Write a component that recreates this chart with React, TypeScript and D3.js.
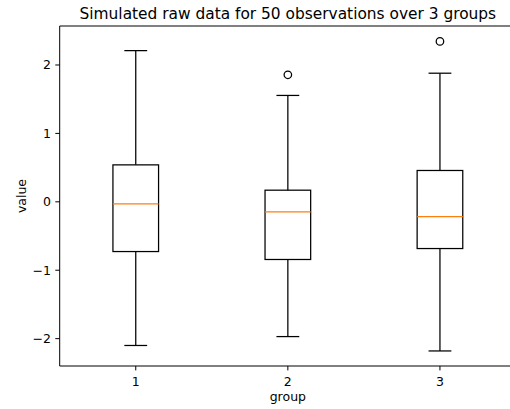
import React from "react";
import * as d3 from "d3";

const groups = [1, 2, 3];
const whiskerLow = [-2.10, -1.97, -2.18];
const q1 = [-0.727, -0.843, -0.683];
const median = [-0.03, -0.146, -0.215];
const q3 = [0.54, 0.17, 0.458];
const whiskerHigh = [2.21, 1.555, 1.88];
const outliers: number[][] = [[], [1.857], [2.344]];
const yTicks = [-2, -1, 0, 1, 2];

const W = 510, H = 409;
const L = 59.7, R = 516, T = 26, B = 366;
const FONT = "DejaVu Sans, sans-serif";

export default function App() {
  const x = d3.scaleLinear().domain([0.5, 3.5]).range([L, R]);
  const y = d3.scaleLinear().domain([-2.40, 2.57]).range([B, T]);
  const boxW = 0.3;
  const capW = 0.15;
  const lw = 1.25;
  return (
    <svg width={W} height={H} style={{ position: "absolute", left: 0, top: 0, background: "#fff" }}>
      <rect x={0} y={0} width={W} height={H} fill="#fff" />
      <text x={(L + R) / 2} y={19} textAnchor="middle" fontFamily={FONT} fontSize={15.4} fill="#000">
        Simulated raw data for 50 observations over 3 groups
      </text>
      {groups.map((g, i) => {
        const cx = x(g);
        const x0 = x(g - boxW / 2), x1 = x(g + boxW / 2);
        const c0 = x(g - capW / 2), c1 = x(g + capW / 2);
        return (
          <g key={g}>
            <line x1={cx} x2={cx} y1={y(q1[i])} y2={y(whiskerLow[i])} stroke="#000" strokeWidth={lw} />
            <line x1={cx} x2={cx} y1={y(q3[i])} y2={y(whiskerHigh[i])} stroke="#000" strokeWidth={lw} />
            <line x1={c0} x2={c1} y1={y(whiskerLow[i])} y2={y(whiskerLow[i])} stroke="#000" strokeWidth={lw} />
            <line x1={c0} x2={c1} y1={y(whiskerHigh[i])} y2={y(whiskerHigh[i])} stroke="#000" strokeWidth={lw} />
            <rect x={x0} y={y(q3[i])} width={x1 - x0} height={y(q1[i]) - y(q3[i])} fill="none" stroke="#000" strokeWidth={lw} />
            <line x1={x0} x2={x1} y1={y(median[i])} y2={y(median[i])} stroke="#ff7f0e" strokeWidth={lw} />
            {outliers[i].map((v, j) => (
              <circle key={j} cx={cx} cy={y(v)} r={3.75} fill="none" stroke="#000" strokeWidth={lw} />
            ))}
          </g>
        );
      })}
      <line x1={L} x2={L} y1={T} y2={B} stroke="#000" strokeWidth={1} />
      <line x1={L} x2={R} y1={B} y2={B} stroke="#000" strokeWidth={1} />
      <line x1={L} x2={R} y1={T} y2={T} stroke="#000" strokeWidth={1} />
      <line x1={R} x2={R} y1={T} y2={B} stroke="#000" strokeWidth={1} />
      {yTicks.map((t) => (
        <g key={t}>
          <line x1={L - 4.4} x2={L} y1={y(t)} y2={y(t)} stroke="#000" strokeWidth={1} />
          <text x={L - 8.8} y={y(t)} dy="0.35em" textAnchor="end" fontFamily={FONT} fontSize={12.5} fill="#000">
            {t < 0 ? "\u2212" + Math.abs(t) : String(t)}
          </text>
        </g>
      ))}
      {groups.map((g) => (
        <g key={g}>
          <line x1={x(g)} x2={x(g)} y1={B} y2={B + 4.4} stroke="#000" strokeWidth={1} />
          <text x={x(g)} y={386} textAnchor="middle" fontFamily={FONT} fontSize={12.5} fill="#000">
            {String(g)}
          </text>
        </g>
      ))}
      <text x={(L + R) / 2} y={401} textAnchor="middle" fontFamily={FONT} fontSize={12.5} fill="#000">
        group
      </text>
      <text transform={`translate(25.5,${(T + B) / 2}) rotate(-90)`} textAnchor="middle" fontFamily={FONT} fontSize={12.5} fill="#000">
        value
      </text>
    </svg>
  );
}
